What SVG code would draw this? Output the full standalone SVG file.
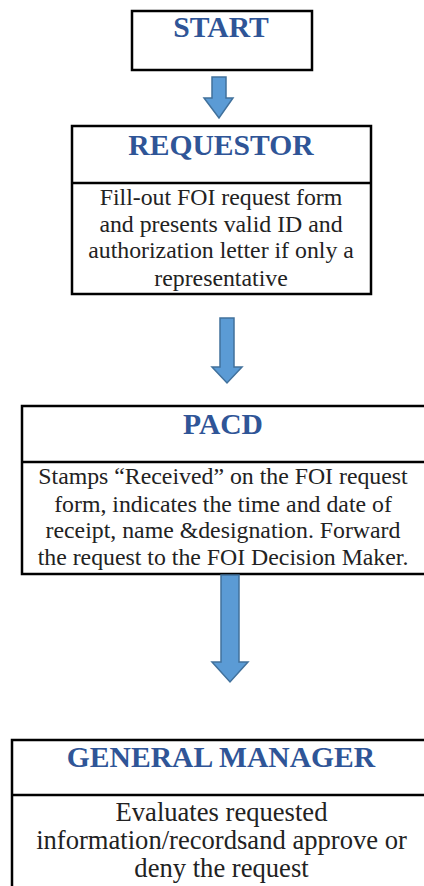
<svg xmlns="http://www.w3.org/2000/svg" width="424" height="886" viewBox="0 0 424 886">
<style>
.box{fill:#fff;stroke:#000;stroke-width:2.5}
.div{stroke:#000;stroke-width:2.5}
.h{font-family:"Liberation Serif","Times New Roman",serif;font-weight:bold;font-size:29.6px;fill:#2F5597;text-anchor:middle}
.b{font-family:"Liberation Serif","Times New Roman",serif;font-size:23.8px;fill:#222;text-anchor:middle}
.arr{fill:#5B9BD5;stroke:#41719C;stroke-width:1.5}
</style>
<rect width="424" height="886" fill="#fff"/>
<g id="start">
<rect class="box" x="132" y="11" width="180" height="59"/>
<text class="h" x="221" y="37">START</text>
</g>
<g id="requestor">
<rect class="box" x="72" y="126" width="299" height="168"/>
<line class="div" x1="72" y1="183" x2="371" y2="183"/>
<text class="h" x="221" y="155">REQUESTOR</text>
<text class="b" x="221" y="205">Fill-out FOI request form</text>
<text class="b" x="221" y="232">and presents valid ID and</text>
<text class="b" x="221" y="258">authorization letter if only a</text>
<text class="b" x="221" y="286">representative</text>
</g>
<g id="pacd">
<rect class="box" x="22" y="406" width="406" height="168"/>
<line class="div" x1="22" y1="462" x2="428" y2="462"/>
<text class="h" x="223" y="434">PACD</text>
<text class="b" x="223" y="484">Stamps “Received” on the FOI request</text>
<text class="b" x="223" y="512">form, indicates the time and date of</text>
<text class="b" x="223" y="538">receipt, name &amp;designation. Forward</text>
<text class="b" x="223" y="565">the request to the FOI Decision Maker.</text>
</g>
<g id="general-manager">
<rect class="box" x="12" y="740" width="416" height="160"/>
<line class="div" x1="12" y1="795" x2="428" y2="795"/>
<text class="h" x="221" y="767">GENERAL MANAGER</text>
<text class="b" x="221.5" y="821" style="font-size:26.6px">Evaluates requested</text>
<text class="b" x="221.5" y="849" style="font-size:26.6px">information/recordsand approve or</text>
<text class="b" x="221.5" y="877" style="font-size:26.6px">deny the request</text>
</g>
<g id="connectors">
<path class="arr" d="M212,77 H226 V98 H233 L219,118 L204,98 H212 Z"/>
<path class="arr" d="M220,318 H234 V367 H242 L227,383 L212,367 H220 Z"/>
<path class="arr" d="M221,575 H239 V662 H248 L230,682 L212,662 H221 Z"/>
</g>
</svg>
